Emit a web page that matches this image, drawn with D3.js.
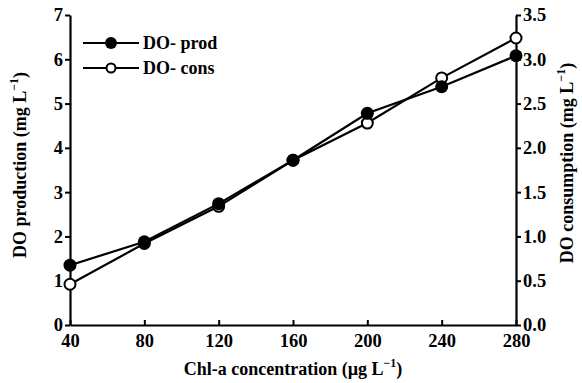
<!DOCTYPE html>
<html>
<head>
<meta charset="utf-8">
<script src="https://cdn.jsdelivr.net/npm/d3@7"></script>
<style>
  body { margin: 0; background: #fff; }
</style>
</head>
<body>
<div id="chart"></div>
<script>
// values
const chl = [40, 80, 120, 160, 200, 240, 280];
const doProd = [1.35, 1.88, 2.74, 3.72, 4.78, 5.38, 6.08];   // left axis
const doCons = [0.46, 0.92, 1.34, 1.86, 2.28, 2.79, 3.24];   // right axis
const xTicks = [40, 80, 120, 160, 200, 240, 280];
const leftTicks = [0, 1, 2, 3, 4, 5, 6, 7];
const rightTicks = [0, 0.5, 1, 1.5, 2, 2.5, 3, 3.5];

// only the bold cut of the serif is available, regular falls back to sans
const FONT = '"Liberation Serif", "Times New Roman", serif';

const width = 582, height = 383;
const margin = {top: 15, right: 66, bottom: 58, left: 70};

const svg = d3.select("#chart").append("svg")
    .attr("width", width)
    .attr("height", height)
    .style("font-family", FONT)
    .style("font-weight", "bold");

const x = d3.scaleLinear().domain([40, 280]).range([margin.left, width - margin.right]);
const yL = d3.scaleLinear().domain([0, 7]).range([height - margin.bottom, margin.top]);
const yR = d3.scaleLinear().domain([0, 3.5]).range([height - margin.bottom, margin.top]);

// axes
const xAxis = svg.append("g")
    .attr("transform", `translate(0,${height - margin.bottom})`)
    .call(d3.axisBottom(x).tickValues(xTicks).tickSizeInner(-5).tickSizeOuter(0).tickPadding(9));
const lAxis = svg.append("g")
    .attr("transform", `translate(${margin.left},0)`)
    .call(d3.axisLeft(yL).tickValues(leftTicks).tickFormat(d3.format("d")).tickSizeInner(5).tickSizeOuter(0).tickPadding(2));
const rAxis = svg.append("g")
    .attr("transform", `translate(${width - margin.right},0)`)
    .call(d3.axisRight(yR).tickValues(rightTicks).tickFormat(d3.format(".1f")).tickSizeInner(5).tickSizeOuter(0).tickPadding(2));

[xAxis, lAxis, rAxis].forEach(g => {
    g.attr("font-family", null);
    g.select(".domain").attr("stroke", "#000").attr("stroke-width", 2.2);
    g.selectAll(".tick line").attr("stroke", "#000").attr("stroke-width", 2);
    g.selectAll(".tick text")
        .style("font-family", FONT)
        .style("font-weight", "bold")
        .attr("font-size", 18.5);
});

// series
const line = (scale) => d3.line().x((d, i) => x(chl[i])).y(d => scale(d));

svg.append("path").datum(doProd)
    .attr("fill", "none").attr("stroke", "#000").attr("stroke-width", 2.2)
    .attr("d", line(yL));
svg.append("path").datum(doCons)
    .attr("fill", "none").attr("stroke", "#000").attr("stroke-width", 2.2)
    .attr("d", line(yR));

svg.append("g").selectAll("circle")
    .data(doCons)
    .enter().append("circle")
    .attr("cx", (d, i) => x(chl[i]))
    .attr("cy", d => yR(d))
    .attr("r", 5.5)
    .attr("fill", "#fff").attr("stroke", "#000").attr("stroke-width", 2);

svg.append("g").selectAll("circle")
    .data(doProd)
    .enter().append("circle")
    .attr("cx", (d, i) => x(chl[i]))
    .attr("cy", d => yL(d))
    .attr("r", 6.5)
    .attr("fill", "#000");

// legend
const legend = svg.append("g");
const items = [
    {label: "DO- prod", filled: true, y: 43},
    {label: "DO- cons", filled: false, y: 68}
];
items.forEach(it => {
    legend.append("line")
        .attr("x1", 83).attr("x2", 139).attr("y1", it.y).attr("y2", it.y)
        .attr("stroke", "#000").attr("stroke-width", 2.2);
    legend.append("circle")
        .attr("cx", 111).attr("cy", it.y)
        .attr("r", it.filled ? 6 : 4.5)
        .attr("fill", it.filled ? "#000" : "#fff")
        .attr("stroke", "#000").attr("stroke-width", it.filled ? 0 : 2);
    legend.append("text")
        .attr("x", 143).attr("y", it.y + 6)
        .attr("font-size", 18)
        .text(it.label);
});

// axis titles
function title(g, main, unit, size) {
    const t = g.append("text").attr("text-anchor", "middle")
        .attr("font-size", size);
    t.append("tspan").text(main + " (" + unit + " L");
    t.append("tspan").attr("dy", -8).attr("font-size", 12).text("\u22121");
    t.append("tspan").attr("dy", 8).text(")");
    return t;
}

title(svg.append("g").attr("transform", `translate(${(margin.left + width - margin.right) / 2},375)`),
    "Chl-a concentration", "\u00b5g", 18);
title(svg.append("g").attr("transform", `translate(26,165) rotate(-90)`),
    "DO production", "mg", 18);
title(svg.append("g").attr("transform", `translate(573,163) rotate(-90)`),
    "DO consumption", "mg", 18);
</script>
</body>
</html>
